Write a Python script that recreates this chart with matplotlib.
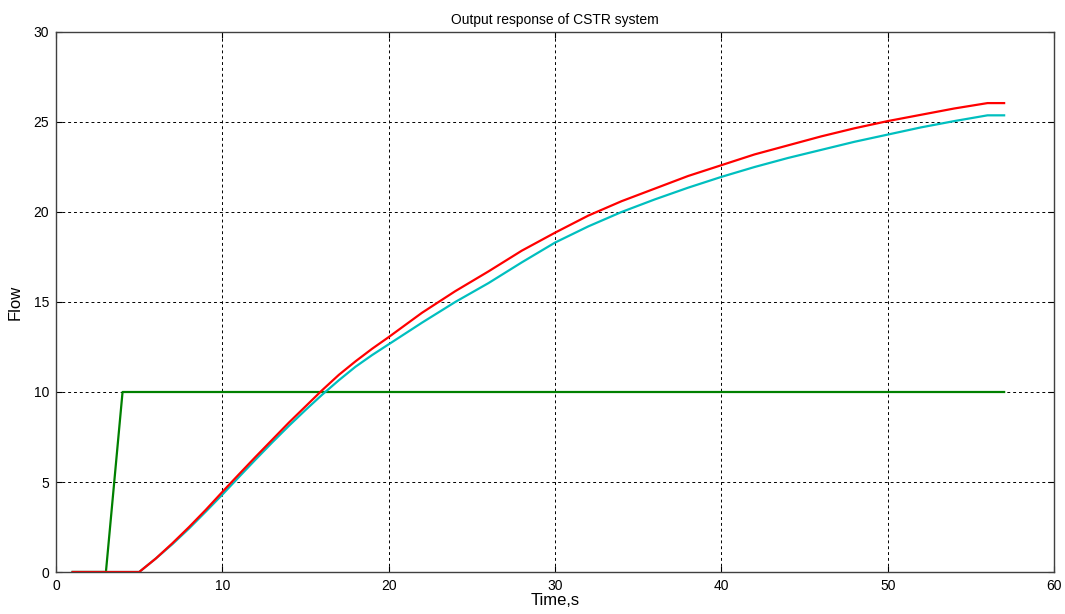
import matplotlib
matplotlib.use("Agg")
import matplotlib.pyplot as plt

plt.rcParams['font.family'] = ['Liberation Sans', 'DejaVu Sans']

# step input (green)
step_t = [1, 3, 4, 57]
step_y = [0, 0, 10, 10]

# responses
resp_t = [1, 5, 6, 7, 8, 9, 10, 11, 12, 13, 14, 15, 16, 17, 18, 19, 20,
          22, 24, 26, 28, 30, 32, 34, 36, 38, 40, 42, 44, 46, 48, 50,
          52, 54, 56, 57]
red_y = [0, 0, 0.75, 1.6, 2.5, 3.45, 4.45, 5.43, 6.4, 7.35, 8.3, 9.2, 10.1,
         10.95, 11.7, 12.4, 13.05,
         14.4, 15.6, 16.7, 17.85, 18.85, 19.8, 20.6, 21.3, 22.0, 22.6,
         23.2, 23.7, 24.2, 24.65, 25.05, 25.4, 25.75, 26.05, 26.05]
cyan_y = [0, 0, 0.75, 1.55, 2.42, 3.35, 4.3, 5.28, 6.25, 7.2, 8.12, 9.0, 9.85,
          10.65, 11.4, 12.05, 12.65,
          13.85, 15.0, 16.05, 17.2, 18.3, 19.2, 20.0, 20.7, 21.35, 21.95,
          22.5, 23.0, 23.45, 23.9, 24.3, 24.7, 25.05, 25.37, 25.37]

fig = plt.figure(figsize=(10.65, 6.14), dpi=100)
ax = fig.add_axes([0.0526, 0.0684, 0.9371, 0.8795])

ax.plot(step_t, step_y, color="#008000", linewidth=1.6)
ax.plot(resp_t, cyan_y, color="#00bfbf", linewidth=1.6)
ax.plot(resp_t, red_y, color="red", linewidth=1.6)

ax.set_xlim(0, 60)
ax.set_ylim(0, 30)
ax.set_xticks(range(0, 61, 10))
ax.set_yticks(range(0, 31, 5))
ax.grid(True, color="black", linestyle=(0, (3, 3)), linewidth=0.7)
ax.tick_params(direction="in", length=4, top=True, right=True, labelsize=10, pad=5)
for s in ax.spines.values():
    s.set_color("#404040")
    s.set_linewidth(1.0)

ax.set_title("Output response of CSTR system", fontsize=10, pad=6)
ax.set_xlabel("Time,s", fontsize=12, labelpad=0)
ax.set_ylabel("Flow", fontsize=12, labelpad=8)

fig.savefig("out.png", dpi=100)
